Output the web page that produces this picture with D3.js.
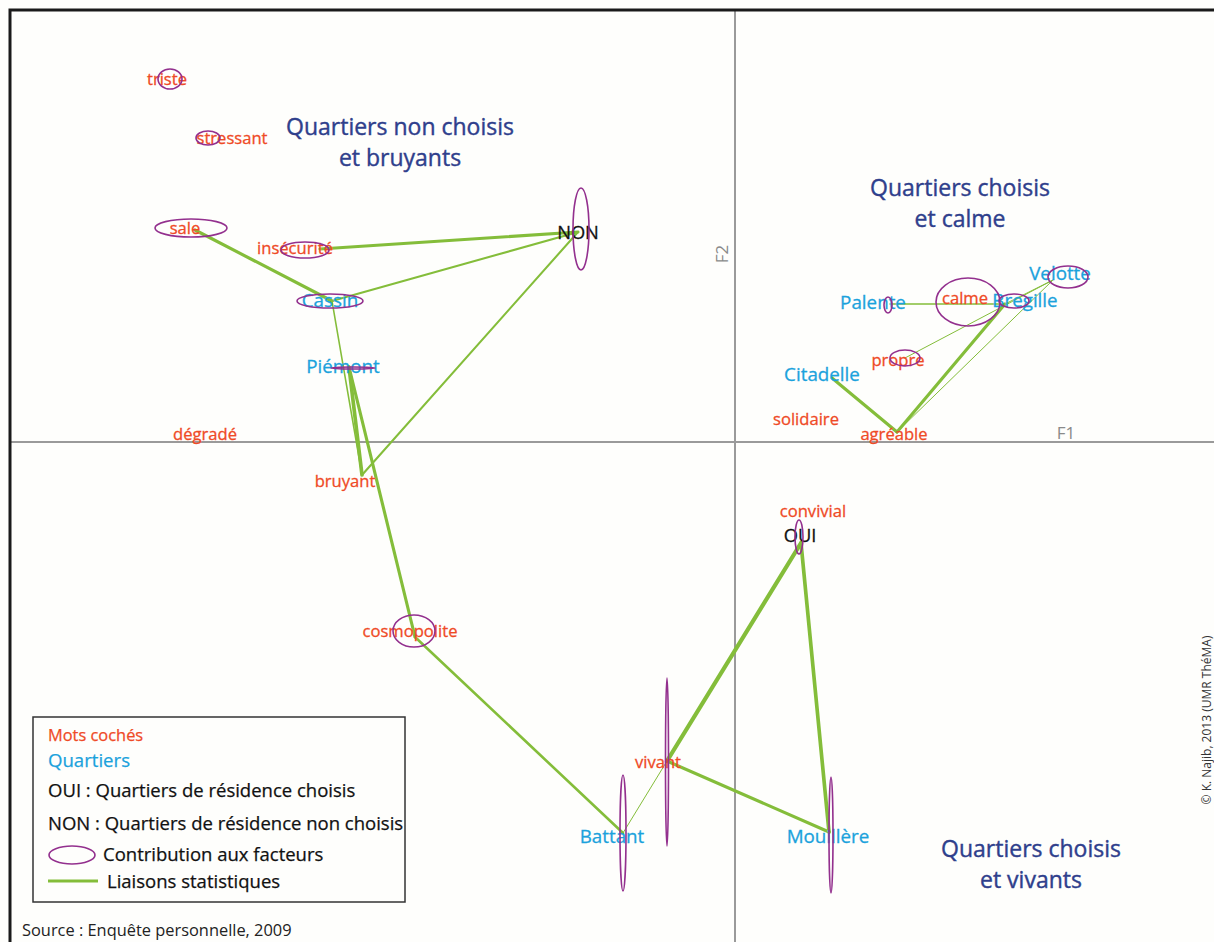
<!DOCTYPE html>
<html><head><meta charset="utf-8">
<script src="https://cdn.jsdelivr.net/npm/d3@7"></script>
<style>html,body{margin:0;padding:0;background:#fefefc;}svg{display:block;}</style>
</head><body>
<script>
// ---- DATA (factor coordinates F1, F2) ----
const words = ["triste","stressant","sale","insécurité","dégradé","bruyant","cosmopolite","vivant","convivial","calme","propre","solidaire","agréable"];
const wordsF1 = [-5.65,-5.15,-5.40,-4.15,-5.30,-3.73,-3.20,-0.68,0.78,2.30,1.70,0.71,1.62];
const wordsF2 = [ 3.63, 3.04, 2.12, 1.93, 0.08,-0.33,-1.95,-3.19,-0.69,1.44,0.84,0.23,0.10];

const quartiers = ["Cassin","Piémont","Battant","Mouillère","Palente","Bregille","Velotte","Citadelle"];
const quartiersF1 = [-4.03,-3.86,-1.12,0.94,1.55,2.70,3.18,0.97];
const quartiersF2 = [ 1.41, 0.75,-3.91,-3.90,1.38,1.38,1.62,0.64];

const modalites = ["NON","OUI"];
const modalitesF1 = [-1.57,0.66];
const modalitesF2 = [ 2.10,-1.01];

// contributions (ellipse half-extent on F1, F2)
const contribNames = ["triste","stressant","sale","insécurité","Cassin","NON","Piémont","cosmopolite","Battant","vivant","Mouillère","OUI","Palente","calme","Bregille","Velotte","propre"];
const contribF1 = [0.12,0.12,0.36,0.24,0.33,0.08,0.22,0.21,0.03,0.015,0.02,0.04,0.04,0.32,0.15,0.20,0.15];
const contribF2 = [0.10,0.07,0.09,0.08,0.07,0.41,0.01,0.16,0.58,0.84,0.58,0.17,0.08,0.24,0.07,0.11,0.08];

// statistical links [from, to, strength]
const linkFrom = ["sale","insécurité","Cassin","NON","Cassin","Piémont","Piémont","cosmopolite","Battant","vivant","vivant","OUI","Palente","Citadelle","agréable","agréable","propre","Bregille"];
const linkTo   = ["Cassin","NON","NON","bruyant","bruyant","bruyant","cosmopolite","Battant","vivant","OUI","Mouillère","Mouillère","Bregille","agréable","Bregille","Velotte","Velotte","Velotte"];
const linkStrength = [3,3,2,2,1.5,3.5,3,2.5,1,4,3,3.5,1.5,3,3,1,1,1];

const titles = [["Quartiers non choisis","et bruyants"],["Quartiers choisis","et calme"],["Quartiers choisis","et vivants"]];
const titleF1 = [-3.35,2.25,2.96];
const titleF2 = [3.07,2.46,-4.15];

const legendItems = ["Mots cochés","Quartiers","OUI : Quartiers de résidence choisis","NON : Quartiers de résidence non choisis","Contribution aux facteurs","Liaisons statistiques"];

// ---- STYLE ----
const W = 1214, H = 942;
const C = {word:"#ef4a26", quart:"#1ba2dc", mod:"#111", title:"#2f3f8c", link:"#84bd3a", ell:"#93308e", axis:"#9a9a9a"};
const FONT = "'Open Sans', 'Noto Sans', sans-serif";
// label offsets in px relative to node (center x, baseline y)
const labelOff = {
  "triste":[-3,6],"stressant":[12,6],"sale":[-10,4],"insécurité":[-25,5],"dégradé":[0,6],"bruyant":[-17,12],
  "cosmopolite":[-5,0],"vivant":[-9,7],"convivial":[0,6],"calme":[0,6],"propre":[-7,8],"solidaire":[0,6],"agréable":[-3,8],
  "Cassin":[-2,6],"Piémont":[-6,6],"Battant":[-11,10],"Mouillère":[-1,11],"Palente":[-17,5],"Bregille":[20,3],"Velotte":[7,0],"Citadelle":[-10,3],
  "NON":[0,7],"OUI":[-1,-1]
};
const ellOff = {
  "triste":[0,0],"stressant":[-12,0],"sale":[-4,-2],"insécurité":[-15,1],"Cassin":[-2,0],"NON":[3,-3],"Piémont":[4,1],
  "cosmopolite":[-1,-6],"Battant":[0,0],"vivant":[0,1],"Mouillère":[2,3],"OUI":[-2,-6],"Palente":[-2,1],"calme":[3,4],"Bregille":[9,-3],"Velotte":[15,-3],"propre":[0,0]
};

const x = d3.scaleLinear().domain([-7.26, 4.79]).range([9, W]);
const y = d3.scaleLinear().domain([-5.0, 4.33]).range([H, 9]);
const rx = d3.scaleLinear().domain([0,1]).range([0,100]);
const ry = d3.scaleLinear().domain([0,1]).range([0,100]);
const wScale = d3.scaleLinear().domain([1,4]).range([1,4.2]);

const nodes = {};
words.forEach((n,i)=>nodes[n]={x:wordsF1[i],y:wordsF2[i],type:"word"});
quartiers.forEach((n,i)=>nodes[n]={x:quartiersF1[i],y:quartiersF2[i],type:"quart"});
modalites.forEach((n,i)=>nodes[n]={x:modalitesF1[i],y:modalitesF2[i],type:"mod"});

const svg = d3.select("body").append("svg").attr("width",W).attr("height",H);
svg.append("rect").attr("width",W).attr("height",H).attr("fill","#fefefc");

// axes
svg.append("line").attr("x1",x(0)).attr("x2",x(0)).attr("y1",10).attr("y2",H).attr("stroke",C.axis).attr("stroke-width",2);
svg.append("line").attr("x1",10).attr("x2",W).attr("y1",y(0)).attr("y2",y(0)).attr("stroke",C.axis).attr("stroke-width",2);
svg.append("text").attr("transform",`translate(${x(0)-7},${y(1.88)}) rotate(-90)`).attr("text-anchor","middle")
  .attr("font-family",FONT).attr("font-size",17).attr("fill","#8a8a8a").text("F2");
svg.append("text").attr("x",x(3.31)).attr("y",y(0)-3).attr("text-anchor","middle")
  .attr("font-family",FONT).attr("font-size",17).attr("fill","#8a8a8a").text("F1");

// frame
svg.append("path").attr("d",`M10,${H} V10 H${W}`).attr("fill","none").attr("stroke","#1a1a1a").attr("stroke-width",3);

// links
svg.append("g").selectAll("line").data(linkFrom.map((f,i)=>({a:nodes[f],b:nodes[linkTo[i]],s:linkStrength[i]})))
  .join("line").attr("x1",d=>x(d.a.x)).attr("y1",d=>y(d.a.y)).attr("x2",d=>x(d.b.x)).attr("y2",d=>y(d.b.y))
  .attr("stroke",C.link).attr("stroke-width",d=>wScale(d.s)).attr("stroke-linecap","round");

// titles
titles.forEach((t,i)=>{
  const g = svg.append("text").attr("text-anchor","middle").attr("font-family",FONT).attr("font-size",23)
    .attr("fill",C.title).attr("stroke",C.title).attr("stroke-width",0.4);
  t.forEach((line,j)=>g.append("tspan").attr("x",x(titleF1[i])).attr("y",y(titleF2[i])+j*31).text(line));
});

// labels
const lab = svg.append("g");
Object.entries(nodes).forEach(([n,d])=>{
  const o = labelOff[n]||[0,0];
  const col = d.type==="word"?C.word:d.type==="quart"?C.quart:C.mod;
  lab.append("text").attr("x",x(d.x)+o[0]).attr("y",y(d.y)+o[1]).attr("text-anchor","middle")
    .attr("font-family",FONT).attr("font-size",d.type==="word"?16.6:d.type==="quart"?18.8:18.3)
    .attr("fill",col).attr("stroke",col).attr("stroke-width",0.3).text(n);
});

// contribution ellipses
svg.append("g").selectAll("ellipse").data(contribNames.map((n,i)=>({n,d:nodes[n],a:contribF1[i],b:contribF2[i]})))
  .join("ellipse").attr("cx",d=>x(d.d.x)+ellOff[d.n][0]).attr("cy",d=>y(d.d.y)+ellOff[d.n][1])
  .attr("rx",d=>rx(d.a)).attr("ry",d=>ry(d.b)).attr("fill","none").attr("stroke",C.ell).attr("stroke-width",1.6);

// legend
const L = svg.append("g");
L.append("rect").attr("x",33).attr("y",717).attr("width",372).attr("height",185).attr("fill","#fefefc").attr("stroke","#333").attr("stroke-width",1.5);
const legY = [741,767,797,830,861,888];
const legCol = [C.word,C.quart,"#111","#111","#111","#111"];
const legSize = [16.4,18.6,18.5,18.5,18.5,18.5];
const legX = [48,48,48,48,103,107];
legendItems.forEach((t,i)=>L.append("text").attr("x",legX[i]).attr("y",legY[i]).attr("font-family",FONT)
  .attr("font-size",legSize[i]).attr("fill",legCol[i]).attr("stroke",legCol[i]).attr("stroke-width",0.25).text(t));
L.append("ellipse").attr("cx",72).attr("cy",855).attr("rx",23).attr("ry",9).attr("fill","none").attr("stroke",C.ell).attr("stroke-width",1.6);
L.append("line").attr("x1",48).attr("x2",98).attr("y1",881).attr("y2",881).attr("stroke",C.link).attr("stroke-width",3);

svg.append("text").attr("x",22).attr("y",936).attr("font-family",FONT).attr("font-size",16.4).attr("fill","#222").text("Source : Enquête personnelle, 2009");
svg.append("text").attr("transform","translate(1211,720) rotate(-90)").attr("text-anchor","middle")
  .attr("font-family",FONT).attr("font-size",12).attr("fill","#333").text("© K. Najib, 2013 (UMR ThéMA)");
</script>
</body></html>
